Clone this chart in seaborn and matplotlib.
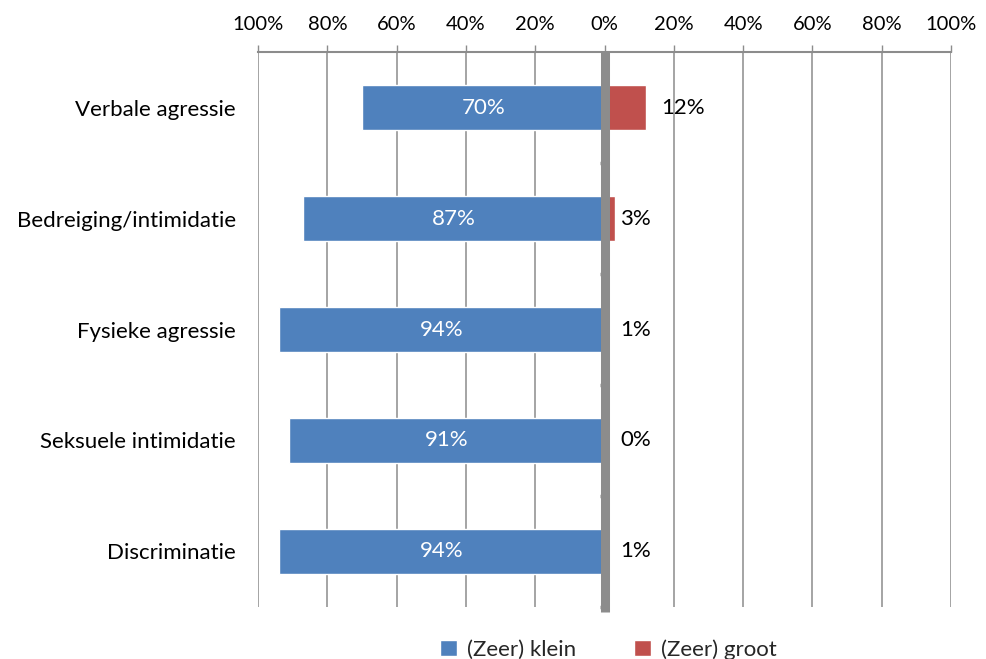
import matplotlib.pyplot as plt
import pandas as pd
import seaborn as sns

categories = [
    "Verbale agressie",
    "Bedreiging/intimidatie",
    "Fysieke agressie",
    "Seksuele intimidatie",
    "Discriminatie",
]
klein = [70, 87, 94, 91, 94]
groot = [12, 3, 1, 0, 1]
series_names = ["(Zeer) klein", "(Zeer) groot"]
tick_values = [-100, -80, -60, -40, -20, 0, 20, 40, 60, 80, 100]

BLUE = "#4F81BD"
RED = "#C0504D"
GRID = "#8C8C8C"

sns.set_theme(style="white")
plt.rcParams["font.family"] = ["Lato", "DejaVu Sans"]

df = pd.DataFrame(
    {
        "category": categories * 2,
        "value": [-v for v in klein] + groot,
        "series": [series_names[0]] * len(categories) + [series_names[1]] * len(categories),
    }
)

fig = plt.figure(figsize=(9.86, 6.59), dpi=100)
ax = fig.add_axes([0.2617, 0.079, 0.7028, 0.842])

sns.barplot(
    data=df, x="value", y="category", hue="series", order=categories,
    palette=[BLUE, RED], dodge=False, width=0.4, orient="h", ax=ax,
    legend=True, saturation=1,
)

ax.set_xlim(-100, 100)
ax.set_ylim(len(categories) - 0.5, -0.5)
ax.set_xlabel("")
ax.set_ylabel("")

ax.xaxis.tick_top()
ax.set_xticks(tick_values)
ax.set_xticklabels([f"{abs(t)}%" for t in tick_values], fontsize=14.5, color="black")
ax.tick_params(axis="x", length=5, width=1, color=GRID, pad=9, top=True, bottom=False)
ax.tick_params(axis="y", length=0, pad=16, labelsize=16, labelcolor="black")

ax.grid(axis="x", color=GRID, lw=1.1)
ax.set_axisbelow(True)
for side in ["left", "right", "bottom"]:
    ax.spines[side].set_visible(False)
ax.spines["top"].set_color(GRID)
ax.spines["top"].set_linewidth(1.5)

# thick category axis at 0 with small ticks between categories
ax.axvline(0, color=GRID, lw=6.5, zorder=5, clip_on=False, ymin=-0.01, ymax=1,
           solid_capstyle="butt")
for i in range(len(categories)):
    b = i + 0.5
    ax.plot([-1.3, 0], [b, b], color=GRID, lw=2.5, zorder=5, clip_on=False,
            solid_capstyle="butt")

# data labels
for i, v in enumerate(klein):
    ax.text(-v / 2, i, f"{v}%", ha="center", va="center", color="white", fontsize=16, zorder=6)
for i, v in enumerate(groot):
    x = v + 4.5 if v > 5 else 4.5
    ax.text(x, i, f"{v}%", ha="left", va="center", color="black", fontsize=16, zorder=6)

handles, labels = ax.get_legend_handles_labels()
ax.get_legend().remove()
fig.legend(
    handles, labels, loc="center", bbox_to_anchor=(0.617, 0.014), ncol=2,
    frameon=False, fontsize=16, handlelength=0.75, handleheight=0.75,
    handletextpad=0.45, columnspacing=2.6,
)

fig.savefig("out.png", dpi=100)
